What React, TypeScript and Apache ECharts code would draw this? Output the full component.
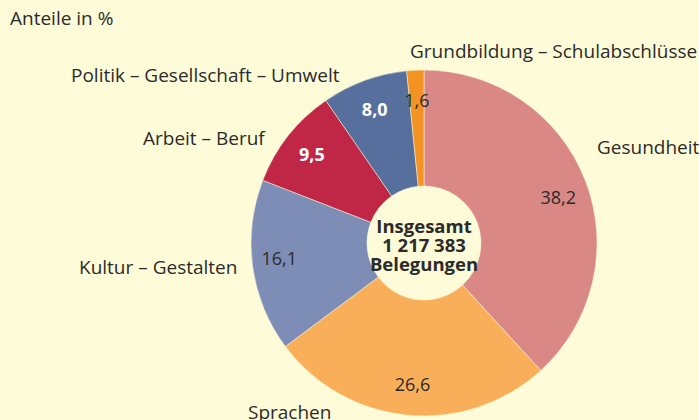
import React, { useEffect, useRef } from "react";
import * as echarts from "echarts";

const categories = [
  "Gesundheit",
  "Sprachen",
  "Kultur – Gestalten",
  "Arbeit – Beruf",
  "Politik – Gesellschaft – Umwelt",
  "Grundbildung – Schulabschlüsse",
];
const values = [38.2, 26.6, 16.1, 9.5, 8.0, 1.6];
const colors = ["#D98885", "#F9AE5A", "#7D8DB5", "#C02646", "#566F9C", "#F39323"];
const valueLabelColors = ["#2b2b2b", "#2b2b2b", "#2b2b2b", "#ffffff", "#ffffff", "#2b2b2b"];
const valueLabelWeights = ["normal", "normal", "normal", "bold", "bold", "normal"];
const valueLabelShift: [number, number][] = [
  [1, 6],
  [2, -1],
  [-3, -4],
  [0, 0],
  [0, 0],
  [0, 0],
];
const nameLabelPos: [number, number][] = [
  [597, 147],
  [248, 412],
  [79, 267],
  [143, 138],
  [71, 75],
  [410, 51],
];
const totalText = "Insgesamt\n1 217 383\nBelegungen";
const titleText = "Anteile in %";

const BG = "#FEFBD8";
const TXT = "#2b2b2b";
const FONT = "Open Sans";

export default function App() {
  const ref = useRef<HTMLDivElement>(null);
  useEffect(() => {
    if (!ref.current) return;
    const chart = echarts.init(ref.current, undefined, { renderer: "svg" });
    const fmt = (v: number) => v.toFixed(1).replace(".", ",");
    chart.setOption({
      animation: false,
      backgroundColor: BG,
      title: {
        text: titleText,
        left: 10,
        top: 8,
        padding: 0,
        textStyle: { fontFamily: FONT, fontSize: 19, fontWeight: "normal", color: TXT },
      },
      graphic: [
        {
          type: "text",
          x: 424,
          y: 244,
          style: {
            text: totalText,
            align: "center",
            verticalAlign: "middle",
            fontFamily: FONT,
            fontSize: 18.5,
            fontWeight: "bold",
            lineHeight: 19,
            fill: TXT,
          },
          z: 10,
        },
      ],
      series: [
        {
          type: "pie",
          center: [424, 243],
          radius: [57, 173],
          startAngle: 90,
          clockwise: true,
          silent: true,
          itemStyle: { borderColor: BG, borderWidth: 0.5 },
          label: {
            show: true,
            position: "outside",
            formatter: "{b}",
            fontFamily: FONT,
            fontSize: 19,
            color: TXT,
            overflow: "none",
            width: 400,
          },
          labelLine: { show: false },
          labelLayout: (p: any) => ({
            x: nameLabelPos[p.dataIndex][0],
            y: nameLabelPos[p.dataIndex][1],
            align: "left",
            verticalAlign: "middle",
          }),
          data: categories.map((c, i) => ({
            name: c,
            value: values[i],
            itemStyle: { color: colors[i] },
          })),
        },
        {
          type: "pie",
          center: [424, 243],
          radius: [107, 173],
          startAngle: 90,
          clockwise: true,
          silent: true,
          itemStyle: { color: "transparent" },
          label: {
            show: true,
            position: "inside",
            fontFamily: FONT,
            fontSize: 18,
          },
          labelLine: { show: false },
          labelLayout: (p: any) => ({
            dx: valueLabelShift[p.dataIndex][0],
            dy: valueLabelShift[p.dataIndex][1],
          }),
          data: categories.map((c, i) => ({
            name: c,
            value: values[i],
            label: {
              formatter: fmt(values[i]),
              color: valueLabelColors[i],
              fontWeight: valueLabelWeights[i],
            },
          })),
        },
      ],
    });
    return () => chart.dispose();
  }, []);
  return (
    <div
      ref={ref}
      style={{ position: "fixed", left: 0, top: 0, width: 699, height: 420, background: BG }}
    />
  );
}
